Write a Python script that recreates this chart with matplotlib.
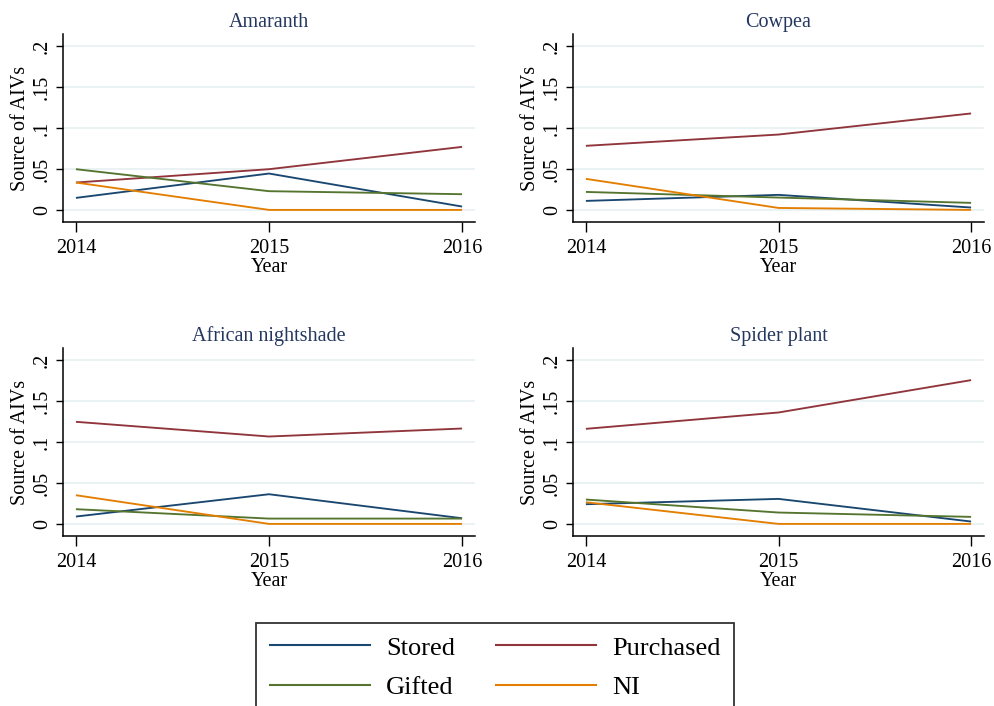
import matplotlib
matplotlib.use("Agg")
import matplotlib.pyplot as plt
from matplotlib.lines import Line2D

plt.rcParams['font.family'] = ['Liberation Serif', 'DejaVu Serif']

years = [2014, 2015, 2016]
crops = ["Amaranth", "Cowpea", "African nightshade", "Spider plant"]

stored = {
    "Amaranth": [0.0147, 0.0445, 0.0041],
    "Cowpea": [0.0110, 0.0184, 0.0029],
    "African nightshade": [0.0090, 0.0363, 0.0069],
    "Spider plant": [0.0241, 0.0306, 0.0029],
}
purchased = {
    "Amaranth": [0.0335, 0.0498, 0.0771],
    "Cowpea": [0.0784, 0.0922, 0.1180],
    "African nightshade": [0.1249, 0.1069, 0.1167],
    "Spider plant": [0.1163, 0.1363, 0.1759],
}
gifted = {
    "Amaranth": [0.0498, 0.0229, 0.0192],
    "Cowpea": [0.0220, 0.0151, 0.0086],
    "African nightshade": [0.0180, 0.0065, 0.0065],
    "Spider plant": [0.0298, 0.0139, 0.0086],
}
ni = {
    "Amaranth": [0.0335, 0.0, 0.0],
    "Cowpea": [0.0380, 0.0024, 0.0],
    "African nightshade": [0.0351, 0.0, 0.0],
    "Spider plant": [0.0265, 0.0, 0.0],
}

yticks = [0, 0.05, 0.1, 0.15, 0.2]
ytick_labels = ["0", ".05", ".1", ".15", ".2"]

series = [
    ("Stored", stored, "#1a476f"),
    ("Purchased", purchased, "#90353b"),
    ("Gifted", gifted, "#55752f"),
    ("NI", ni, "#e37e00"),
]

W, H = 994, 706
fig = plt.figure(figsize=(W / 100, H / 100), dpi=100)

# panel boxes in pixels: left, right, top, bottom
boxes = [
    (63, 475, 34, 222),
    (573, 984, 34, 222),
    (63, 475, 348, 536),
    (573, 984, 348, 536),
]

for crop, (l, r, t, b) in zip(crops, boxes):
    ax = fig.add_axes([l / W, 1 - b / H, (r - l) / W, (b - t) / H])
    for name, data, color in series:
        ax.plot(years, data[crop], color=color, lw=1.35, solid_capstyle='butt', zorder=3)
    ax.set_xlim(2013.933, 2016.067)
    ax.set_ylim(-0.0148, 0.2152)
    ax.set_xticks(years)
    ax.set_xticklabels([str(y) for y in years], fontsize=14.5)
    ax.set_yticks(yticks)
    ax.set_yticklabels(ytick_labels, fontsize=14.5, rotation=90, va='center')
    ax.tick_params(axis='x', length=7, width=1, pad=5, color='black')
    ax.tick_params(axis='y', length=5, width=1, pad=3, color='black')
    ax.grid(axis='y', color='#e8f0f2', lw=1.2, zorder=0)
    ax.set_axisbelow(True)
    for s in ['top', 'right']:
        ax.spines[s].set_visible(False)
    for s in ['left', 'bottom']:
        ax.spines[s].set_linewidth(1.1)
    ax.set_xlabel("Year", fontsize=14.5, labelpad=0)
    ax.set_ylabel("Source of AIVs", fontsize=14.5, labelpad=2)
    ax.set_title(crop, fontsize=14.5, color='#24375f', pad=5)

handles = [
    Line2D([], [], color="#1a476f", lw=1.5),
    Line2D([], [], color="#55752f", lw=1.5),
    Line2D([], [], color="#90353b", lw=1.5),
    Line2D([], [], color="#e37e00", lw=1.5),
]
labels = ["Stored", "Gifted", "Purchased", "NI"]
leg = fig.legend(handles, labels, ncol=2, loc='upper center',
                 bbox_to_anchor=(495 / W, 1 - 623 / H),
                 fontsize=19, frameon=True, fancybox=False, shadow=False,
                 edgecolor='black', handlelength=3.8, handletextpad=0.6,
                 columnspacing=1.55, labelspacing=0.62, borderpad=0.5,
                 borderaxespad=0)
leg.get_frame().set_linewidth(1.3)

fig.savefig("out.png", dpi=100, facecolor='white')
